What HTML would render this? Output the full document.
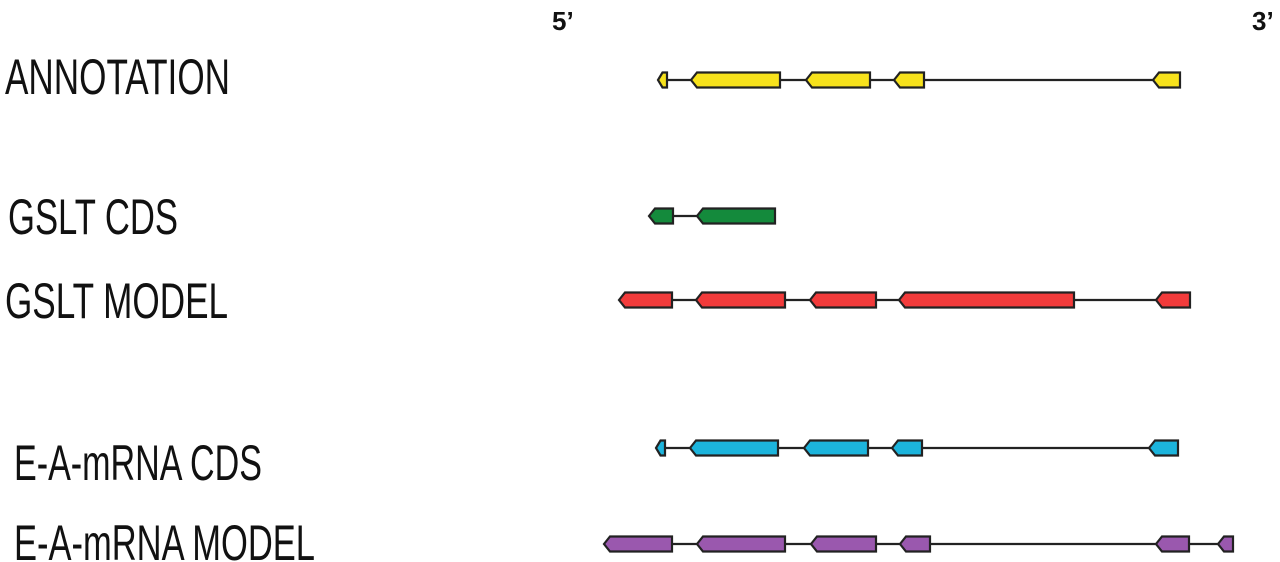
<!DOCTYPE html>
<html><head><style>body{margin:0;background:#fff}svg{display:block}</style></head><body>
<svg width="1280" height="562" xmlns="http://www.w3.org/2000/svg" font-family="Liberation Sans, Arial, sans-serif">
<g font-size="50" fill="#111">
<text x="5" y="94" textLength="225" lengthAdjust="spacingAndGlyphs">ANNOTATION</text>
<text x="8" y="234" textLength="170" lengthAdjust="spacingAndGlyphs">GSLT CDS</text>
<text x="5" y="318" textLength="223" lengthAdjust="spacingAndGlyphs">GSLT MODEL</text>
<text x="14" y="480" textLength="248" lengthAdjust="spacingAndGlyphs">E-A-mRNA CDS</text>
<text x="14" y="560" textLength="301" lengthAdjust="spacingAndGlyphs">E-A-mRNA MODEL</text>
</g>
<text x="552" y="30" font-size="26" font-weight="bold" fill="#111">5’</text>
<text x="1252" y="30" font-size="26" font-weight="bold" fill="#111">3’</text>
<g id="rows" stroke="#222" stroke-width="2.2"></g>
</svg>
<script>
const rows=[
 [80,'#f7e21c',[[658,667],[691,780],[806,870],[894,924],[1153,1180]]],
 [216,'#148a3c',[[649,673],[697,775]]],
 [300,'#f23b3b',[[619,672],[696,785],[810,876],[899,1074],[1156,1190]]],
 [448,'#1cb4dc',[[656,665],[690,778],[804,868],[892,922],[1149,1178]]],
 [544,'#9a58ae',[[604,672],[697,785],[811,876],[900,930],[1156,1189],[1218,1233]]]
];
const g=document.getElementById('rows');let s='';
for(const [y,c,ex] of rows){
 s+=`<line x1="${ex[0][0]}" y1="${y}" x2="${ex[ex.length-1][1]}" y2="${y}"/>`;
 for(const [a,b] of ex){const t=Math.min(6,(b-a)/2);
  s+=`<polygon fill="${c}" points="${a},${y} ${a+t},${y-7.5} ${b},${y-7.5} ${b},${y+7.5} ${a+t},${y+7.5}"/>`;}
}
g.innerHTML=s;
</script>
</body></html>
